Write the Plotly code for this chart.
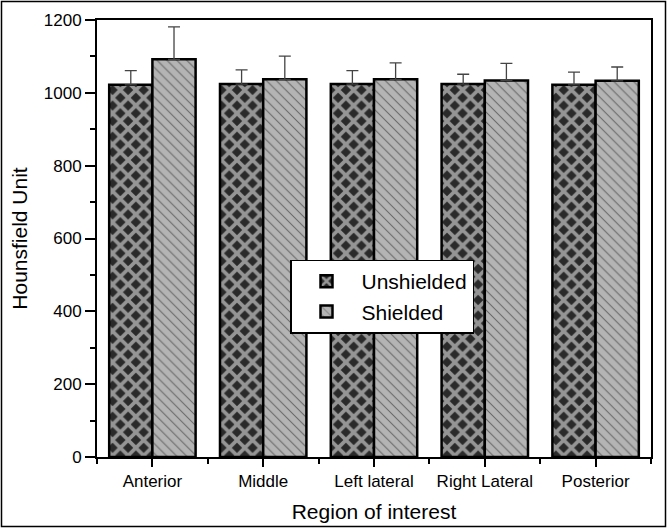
import plotly.graph_objects as go

categories = ["Anterior", "Middle", "Left lateral", "Right Lateral", "Posterior"]
unshielded = [1022, 1024, 1024, 1024, 1022]
unshielded_err = [39, 39, 37, 27, 35]
shielded = [1092, 1037, 1037, 1034, 1033]
shielded_err = [89, 64, 45, 47, 38]
y_ticks = [0, 200, 400, 600, 800, 1000, 1200]

W, H = 667, 528
L, R, T, B = 97, 16, 20, 71
pw, ph = W - L - R, H - T - B

xpos = list(range(len(categories)))

fig = go.Figure()
fig.add_trace(go.Bar(
    x=xpos, y=unshielded, name="Unshielded",
    marker=dict(color="#2a2a2a",
                line=dict(color="black", width=2.5),
                pattern=dict(shape="x", fgcolor="white", bgcolor="#2a2a2a",
                             size=11, solidity=0.55)),
    error_y=dict(type="data", array=unshielded_err, symmetric=False,
                 arrayminus=[0] * len(unshielded), color="#444444",
                 thickness=1.3, width=6),
))
fig.add_trace(go.Bar(
    x=xpos, y=shielded, name="Shielded",
    marker=dict(color="#b4b4b4",
                line=dict(color="black", width=2.5),
                pattern=dict(shape="\\", fgcolor="#1a1a1a", bgcolor="#b4b4b4",
                             size=7, solidity=0.15)),
    error_y=dict(type="data", array=shielded_err, symmetric=False,
                 arrayminus=[0] * len(shielded), color="#444444",
                 thickness=1.3, width=6),
))

font_family = "Liberation Sans, Arial, sans-serif"

fig.update_layout(
    width=W, height=H,
    margin=dict(l=L, r=R, t=T, b=B, autoexpand=False),
    paper_bgcolor="white", plot_bgcolor="white",
    barmode="group", bargap=0.22, bargroupgap=0,
    font=dict(family=font_family, color="black", size=17),
    showlegend=True,
    legend=dict(x=(290 - L) / pw, y=(H - B - 259.5) / ph, xanchor="left", yanchor="top",
                bgcolor="white", bordercolor="black", borderwidth=1.5,
                font=dict(size=21, family=font_family), itemwidth=60,
                tracegroupgap=0),
    xaxis=dict(
        range=[-0.5, len(categories) - 0.5],
        tickmode="array", tickvals=xpos, ticktext=categories,
        ticks="outside", ticklen=8, tickwidth=1.5, tickcolor="black",
        showline=True, linecolor="black", linewidth=2, mirror=True,
        showgrid=False, zeroline=False, automargin=False,
        tickfont=dict(size=17),
        minor=dict(tickmode="array",
                   tickvals=[i - 0.5 for i in range(len(categories) + 1)],
                   ticks="outside", ticklen=5, tickwidth=1.5, tickcolor="black",
                   showgrid=False),
        title=dict(text="Region of interest", font=dict(size=21), standoff=14),
    ),
    yaxis=dict(
        range=[0, 1200],
        tickmode="array", tickvals=y_ticks,
        ticks="outside", ticklen=10, tickwidth=1.5, tickcolor="black",
        showline=True, linecolor="black", linewidth=2, mirror=True,
        showgrid=False, zeroline=False, automargin=False,
        tickfont=dict(size=17),
        minor=dict(dtick=100, ticks="outside", ticklen=5, tickwidth=1.5,
                   tickcolor="black", showgrid=False),
        title=dict(text="Hounsfield Unit", font=dict(size=21), standoff=10),
    ),
    shapes=[dict(type="rect", xref="paper", yref="paper",
                 x0=-(L - 1.5) / pw, x1=1 + (R - 1.5) / pw,
                 y0=-(B - 1.5) / ph, y1=1 + (T - 1.5) / ph,
                 line=dict(color="black", width=1.5), layer="above")],
)

fig.write_html("out.html", config={"displayModeBar": False},
               post_script="document.body.style.margin='0';document.body.style.padding='0';")
